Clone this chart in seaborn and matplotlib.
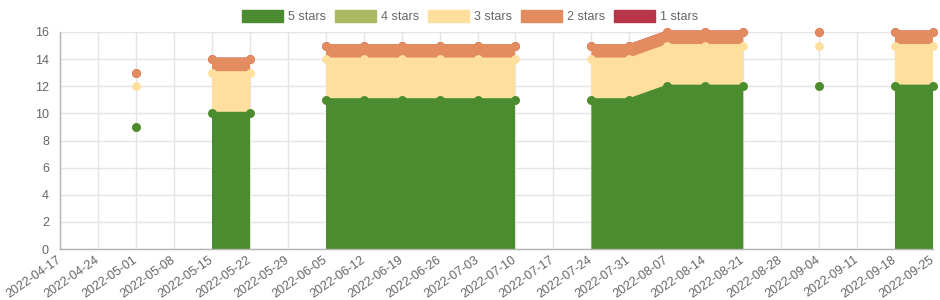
import numpy as np
import pandas as pd
import matplotlib
matplotlib.use("Agg")
import matplotlib.pyplot as plt
from matplotlib.patches import Patch
import seaborn as sns

dates = ["2022-04-17", "2022-04-24", "2022-05-01", "2022-05-08", "2022-05-15", "2022-05-22",
         "2022-05-29", "2022-06-05", "2022-06-12", "2022-06-19", "2022-06-26", "2022-07-03",
         "2022-07-10", "2022-07-17", "2022-07-24", "2022-07-31", "2022-08-07", "2022-08-14",
         "2022-08-21", "2022-08-28", "2022-09-04", "2022-09-11", "2022-09-18", "2022-09-25"]
nan = np.nan
stars5 = [nan, nan, 9, nan, 10, 10, nan, 11, 11, 11, 11, 11, 11, nan, 11, 11, 12, 12, 12, nan, 12, nan, 12, 12]
stars4 = [nan, nan, 0, nan, 0, 0, nan, 0, 0, 0, 0, 0, 0, nan, 0, 0, 0, 0, 0, nan, 0, nan, 0, 0]
stars3 = [nan, nan, 3, nan, 3, 3, nan, 3, 3, 3, 3, 3, 3, nan, 3, 3, 3, 3, 3, nan, 3, nan, 3, 3]
stars2 = [nan, nan, 1, nan, 1, 1, nan, 1, 1, 1, 1, 1, 1, nan, 1, 1, 1, 1, 1, nan, 1, nan, 1, 1]
stars1 = [nan, nan, 0, nan, 0, 0, nan, 0, 0, 0, 0, 0, 0, nan, 0, 0, 0, 0, 0, nan, 0, nan, 0, 0]

labels = ["5 stars", "4 stars", "3 stars", "2 stars", "1 stars"]
colors = ["#4a8c2f", "#adb862", "#fedf9d", "#e38c5f", "#b9364a"]
series = [stars5, stars4, stars3, stars2, stars1]

sns.set_theme(style="white")
plt.rcParams['font.family'] = ['Liberation Sans', 'DejaVu Sans']

fig = plt.figure(figsize=(9.4, 3.0), dpi=100)
ax = fig.add_axes([60/940, 1-249/300, 873/940, 217/300])

x = np.arange(len(dates))
cum = np.zeros(len(dates))
bases, tops = [], []
for s in series:
    arr = np.array(s, dtype=float)
    bases.append(cum.copy())
    cum = cum + arr
    tops.append(cum.copy())

# draw from last series to first so that 5 stars ends on top
for i in reversed(range(len(series))):
    z = 10 + (len(series) - i) * 3
    base = bases[i] if i > 0 else np.where(np.isnan(tops[i]), np.nan, 0.0)
    ax.fill_between(x, base, tops[i], color=colors[i], linewidth=0, zorder=z)
    ax.plot(x, tops[i], color=colors[i], lw=2.2, zorder=z + 1, solid_capstyle='butt',
            clip_on=False)
    df = pd.DataFrame({"x": x, "y": tops[i]}).dropna()
    sns.scatterplot(data=df, x="x", y="y", ax=ax, color=colors[i], s=40,
                    linewidth=0, zorder=z + 2, legend=False, clip_on=False)

ax.set_xlim(0, len(dates) - 1)
ax.set_ylim(0, 16)
ax.set_yticks(range(0, 17, 2))
ax.set_xticks(x)
ax.set_xticklabels(dates, rotation=35, ha='right', va='center', rotation_mode='anchor')
ax.set_xlabel("")
ax.set_ylabel("")
ax.grid(True, color='#e5e5e5', lw=1, zorder=0)
ax.set_axisbelow(True)
for sp in ['top', 'right']:
    ax.spines[sp].set_visible(False)
for sp in ['left', 'bottom']:
    ax.spines[sp].set_color('#b3b3b3')
    ax.spines[sp].set_linewidth(1)
    ax.spines[sp].set_zorder(50)
ax.tick_params(axis='both', length=6, width=1, color='#e5e5e5', labelcolor='#666666',
               labelsize=9, pad=2, direction='out')
ax.tick_params(axis='x', pad=1)

handles = [Patch(facecolor=c, edgecolor=c, alpha=1) for c in colors]
fig.legend(handles, labels, loc='upper center', bbox_to_anchor=(0.5, 1.0), ncol=5,
           frameon=False, fontsize=9, labelcolor='#666666', handlelength=3.3,
           handleheight=1.1, handletextpad=0.4, columnspacing=0.7, borderaxespad=0.4)

fig.savefig("out.png", dpi=100)
